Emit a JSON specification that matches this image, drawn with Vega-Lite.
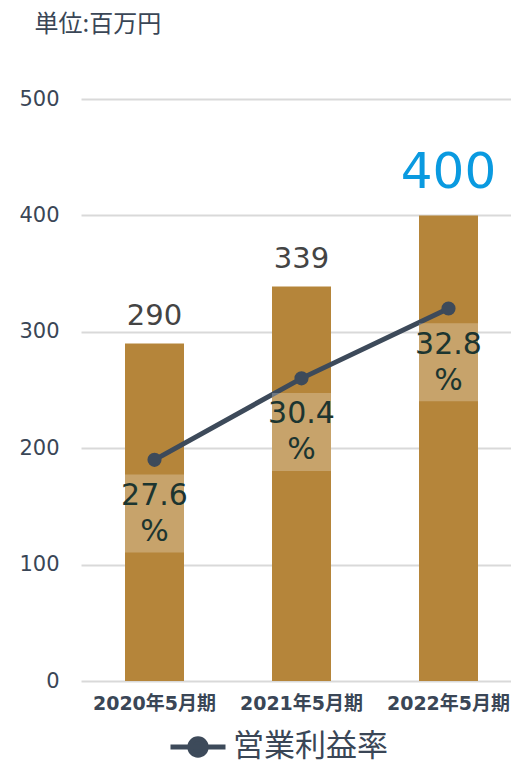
{
  "$schema": "https://vega.github.io/schema/vega-lite/v6.json",
  "autosize": "none",
  "width": 441,
  "height": 582,
  "padding": {"left": 81, "top": 99, "right": 0, "bottom": 85},
  "background": "white",
  "config": {"view": {"stroke": null}, "font": "DejaVu Sans, Noto Sans CJK JP"},
  "data": {"values": [
    {"year": "2020年5月期", "sales": 290, "pct": 27.6},
    {"year": "2021年5月期", "sales": 339, "pct": 30.4},
    {"year": "2022年5月期", "sales": 400, "pct": 32.8}
  ]},
  "encoding": {
    "x": {"field": "year", "type": "nominal", "sort": null, "scale": {"paddingInner": 0.6, "paddingOuter": 0.3},
      "axis": {"title": null, "labelAngle": 0, "ticks": false, "domain": false, "labelPadding": 13, "labelFontSize": 19, "labelFontWeight": "bold", "labelColor": "#3a4656", "labelFont": "DejaVu Sans, Noto Sans CJK JP"}}
  },
  "layer": [
    {
      "mark": {"type": "bar", "color": "#b5853a", "width": 59},
      "encoding": {
        "y": {"field": "sales", "type": "quantitative", "scale": {"domain": [0, 500]},
          "axis": {"title": "単位:百万円", "titleAngle": 0, "titleAlign": "left", "titleBaseline": "top", "titleX": -47, "titleY": -87, "titleFontSize": 24, "titleFontWeight": "normal", "titleColor": "#3a4656", "titleFont": "Noto Sans CJK JP",
            "values": [0, 100, 200, 300, 400, 500], "domain": false, "ticks": false, "labelPadding": 22, "labelFontSize": 21, "labelColor": "#3a4656", "gridColor": "#d9d9d9", "gridWidth": 2}}
      }
    },
    {
      "transform": [{"filter": "datum.year != '2022年5月期'"}],
      "mark": {"type": "text", "baseline": "alphabetic", "dy": -18, "fontSize": 29, "color": "#444444"},
      "encoding": {
        "y": {"field": "sales", "type": "quantitative", "scale": {"domain": [0, 500]}, "axis": null},
        "text": {"field": "sales", "type": "quantitative"}
      }
    },
    {
      "transform": [{"filter": "datum.year == '2022年5月期'"}],
      "mark": {"type": "text", "baseline": "alphabetic", "dy": -27, "fontSize": 50, "color": "#0a9ae0"},
      "encoding": {
        "y": {"field": "sales", "type": "quantitative", "scale": {"domain": [0, 500]}, "axis": null},
        "text": {"field": "sales", "type": "quantitative"}
      }
    },
    {
      "mark": {"type": "line", "strokeWidth": 5, "color": "#3d4a5a", "point": {"filled": true, "size": 200, "color": "#3d4a5a"}},
      "encoding": {
        "y": {"field": "pct", "type": "quantitative", "scale": {"domain": [20, 40]}, "axis": null},
        "color": {"datum": "営業利益率", "type": "nominal", "scale": {"range": ["#3d4a5a"]},
          "legend": {"orient": "none", "legendX": 87, "legendY": 618, "title": null, "labelFontSize": 31, "labelLimit": 400, "labelColor": "#3a4656", "labelFont": "Noto Sans CJK JP", "symbolType": "M-1,0H1M-0.3,0A0.3,0.3 0 1,1 0.3,0A0.3,0.3 0 1,1 -0.3,0Z", "symbolSize": 3025, "symbolStrokeWidth": 5, "symbolFillColor": "#3d4a5a", "symbolStrokeColor": "#3d4a5a", "labelOffset": 5}}
      }
    },
    {
      "mark": {"type": "point", "filled": true, "color": "white", "opacity": 0.25, "strokeWidth": 0, "shape": "M-0.5,0.25H0.5V1.57H-0.5Z", "size": 13924},
      "encoding": {
        "y": {"field": "pct", "type": "quantitative", "scale": {"domain": [20, 40]}, "axis": null}
      }
    },
    {
      "mark": {"type": "text", "baseline": "middle", "dy": 36, "fontSize": 30, "color": "#1c3530"},
      "encoding": {
        "y": {"field": "pct", "type": "quantitative", "scale": {"domain": [20, 40]}, "axis": null},
        "text": {"field": "pct", "type": "quantitative", "format": ".1f"}
      }
    },
    {
      "mark": {"type": "text", "baseline": "middle", "dy": 72, "fontSize": 30, "color": "#1c3530", "text": "%"},
      "encoding": {
        "y": {"field": "pct", "type": "quantitative", "scale": {"domain": [20, 40]}, "axis": null}
      }
    }
  ],
  "resolve": {"scale": {"y": "independent"}}
}
